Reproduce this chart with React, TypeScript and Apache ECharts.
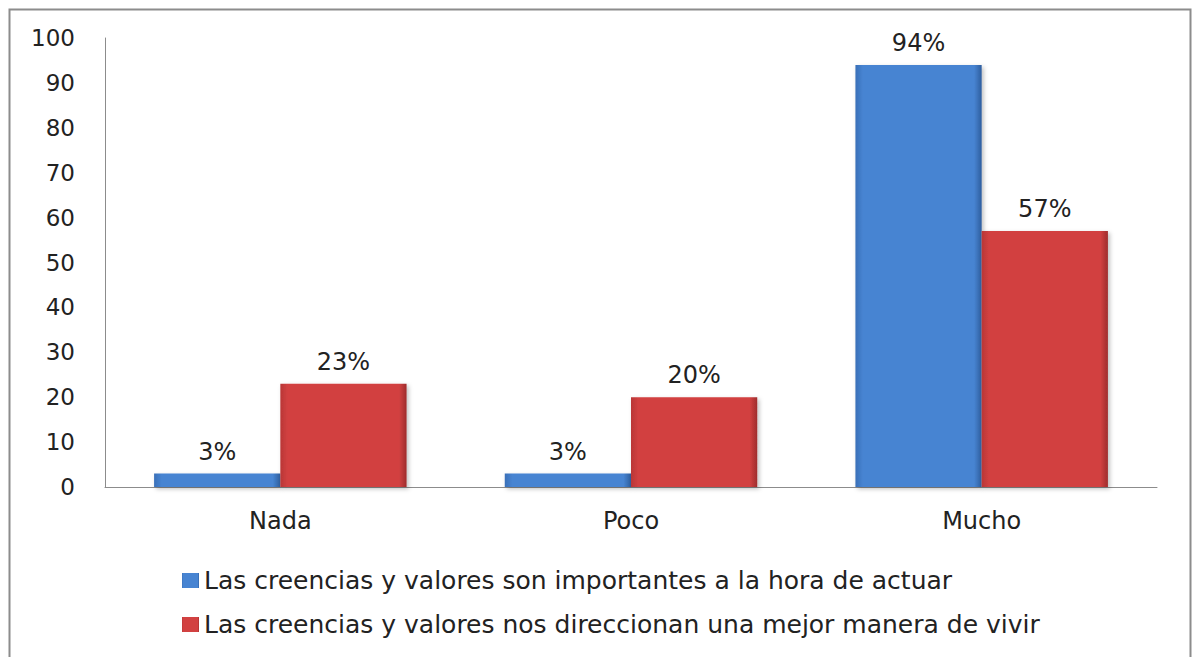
import React, { useEffect, useRef } from "react";
import * as echarts from "echarts";

const categories = ["Nada", "Poco", "Mucho"];
const seriesNames = [
  "Las creencias y valores son importantes a la hora de actuar",
  "Las creencias y valores nos direccionan una mejor manera de vivir",
];
const importantes = [3, 3, 94];
const direccionan = [23, 20, 57];
const yTicks = { min: 0, max: 100, interval: 10 };

const FONT = "DejaVu Sans";
const FS = 23;

function grad(edgeL: string, mid: string, edgeR: string) {
  return new echarts.graphic.LinearGradient(0, 0, 1, 0, [
    { offset: 0, color: edgeL },
    { offset: 0.06, color: mid },
    { offset: 0.94, color: mid },
    { offset: 1, color: edgeR },
  ]);
}

export default function App() {
  const ref = useRef<HTMLDivElement>(null);
  useEffect(() => {
    const chart = echarts.init(ref.current!, null, { renderer: "svg" });
    const blue = grad("#3a70b8", "#4784d2", "#2e5e9e");
    const red = grad("#b93636", "#d24141", "#9e2c2c");
    const lbl = {
      show: true,
      position: "top",
      distance: 10,
      formatter: "{c}%",
      fontFamily: FONT,
      fontSize: 24,
      color: "#222",
    };
    chart.setOption({
      animation: false,
      backgroundColor: "#fff",
      graphic: [
        {
          type: "rect",
          shape: { x: 9.5, y: 9.5, width: 1181, height: 670 },
          style: { fill: "none", stroke: "#8c8c8c", lineWidth: 2 },
          z: 100,
        },
      ],
      grid: { left: 105, top: 38, right: 36, bottom: 170 },
      legend: {
        orient: "vertical",
        left: 177,
        top: 563,
        itemWidth: 17,
        itemHeight: 15,
        itemGap: 19,
        icon: "rect",
        textStyle: { fontFamily: FONT, fontSize: 25, color: "#222", padding: [0, 0, 0, 0] },
        data: seriesNames,
      },
      xAxis: {
        type: "category",
        data: categories,
        axisLine: { lineStyle: { color: "#8c8c8c", width: 1 } },
        axisTick: { show: false },
        axisLabel: { fontFamily: FONT, fontSize: 24, color: "#222", margin: 22 },
      },
      yAxis: {
        type: "value",
        min: yTicks.min,
        max: yTicks.max,
        interval: yTicks.interval,
        axisLine: { show: true, lineStyle: { color: "#8c8c8c", width: 1 } },
        axisTick: { show: false },
        splitLine: { show: false },
        axisLabel: { fontFamily: FONT, fontSize: FS, color: "#222", margin: 30 },
      },
      series: [
        {
          name: seriesNames[0],
          type: "bar",
          data: importantes,
          barGap: "0%",
          barCategoryGap: "28%",
          itemStyle: { color: blue, shadowColor: "rgba(0,0,0,0.25)", shadowBlur: 4, shadowOffsetX: 2, shadowOffsetY: 2 },
          label: lbl,
        },
        {
          name: seriesNames[1],
          type: "bar",
          data: direccionan,
          barGap: "0%",
          barCategoryGap: "28%",
          itemStyle: { color: red, shadowColor: "rgba(0,0,0,0.25)", shadowBlur: 4, shadowOffsetX: 2, shadowOffsetY: 2 },
          label: lbl,
        },
      ],
    });
    return () => chart.dispose();
  }, []);
  return (
    <div
      ref={ref}
      style={{ position: "fixed", left: 0, top: 0, width: 1193, height: 657 }}
    />
  );
}
